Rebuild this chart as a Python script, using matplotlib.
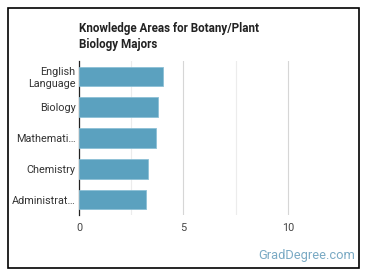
# Knowledge areas bar chart
import matplotlib.pyplot as plt
from matplotlib.patches import Rectangle

# Data
areas = ['English\nLanguage', 'Biology', 'Mathemati…', 'Chemistry', 'Administrat…']
scores = [4.0, 3.78, 3.7, 3.3, 3.2]
ticks = [0, 5, 10]

plt.rcParams['font.family'] = ['Roboto', 'DejaVu Sans']

fig = plt.figure(figsize=(3.7, 2.78), dpi=100)
ax = fig.add_axes([79/370, 1 - 215/278, (340-79)/370, (215-61)/278])

ypos = list(range(len(areas)))
ax.barh(ypos, scores, height=0.63, color='#5ba1bf', edgecolor='#8cc0d6', linewidth=0.6, zorder=3)
ax.set_ylim(4.5, -0.5)
ax.set_xlim(0, 12.5)
ax.set_yticks(ypos)
ax.set_yticklabels(areas, fontsize=7.8, color='#333333', linespacing=1.2)
ax.set_xticks(ticks)
ax.set_xticklabels([str(t) for t in ticks], fontsize=7.8, color='#444444')
ax.set_xticks([2.5, 7.5], minor=True)
ax.tick_params(axis='both', which='both', length=0, pad=2.5)
ax.tick_params(axis='x', pad=6)
ax.grid(axis='x', which='major', color='#d6d6d6', linewidth=0.8, zorder=0)
ax.grid(axis='x', which='minor', color='#ececec', linewidth=0.8, zorder=0)
for s in ['top', 'right', 'bottom']:
    ax.spines[s].set_visible(False)
ax.spines['left'].set_color('#222222')
ax.spines['left'].set_linewidth(0.9)

fig.text(79/370, 1 - 22/278, 'Knowledge Areas for Botany/Plant\nBiology Majors', fontsize=8.4,
         fontweight='bold', color='#222222', va='top', ha='left', linespacing=1.3)
fig.text(355/370, 1 - 256/278, 'GradDegree.com', fontsize=9.3, color='#7aaac4', ha='right', va='center')

fig.patches.append(Rectangle((8/370, 1 - 268/278), (359-8)/370, (268-8)/278, transform=fig.transFigure,
                             fill=False, edgecolor='black', linewidth=1.2))

plt.savefig('out.png', dpi=100)
